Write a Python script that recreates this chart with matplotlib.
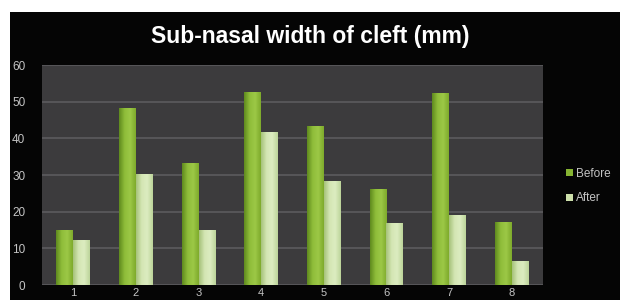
import numpy as np
import matplotlib
matplotlib.use('Agg')
import matplotlib.pyplot as plt
from matplotlib.colors import LinearSegmentedColormap

# Data
categories = ['1', '2', '3', '4', '5', '6', '7', '8']
before = [15.1, 48.4, 33.2, 52.7, 43.3, 26.1, 52.5, 17.2]
after = [12.4, 30.4, 15.1, 41.7, 28.4, 16.9, 19.0, 6.6]
series_names = ['Before', 'After']
yticks = [0, 10, 20, 30, 40, 50, 60]

before_cmap = LinearSegmentedColormap.from_list('bef', ['#5f8a1e', '#8fbd3a', '#9cc846', '#7eaa2c'])
after_cmap = LinearSegmentedColormap.from_list('aft', ['#a6c27a', '#d4e6b4', '#dcecc0', '#bcd49a'])

plt.rcParams['font.family'] = ['Liberation Sans', 'DejaVu Sans']


def gradient_bars(ax, bars, cmap):
  grad = np.linspace(0, 1, 64).reshape(1, -1)
  for b in bars:
    x, y = b.get_x(), b.get_y()
    w, h = b.get_width(), b.get_height()
    im = ax.imshow(grad, cmap=cmap, aspect='auto', extent=[x, x + w, y, y + h],
                   zorder=3, interpolation='bilinear')
    im.set_clip_path(b)


fig = plt.figure(figsize=(6.2, 3.0), dpi=100, facecolor='white')
# black slide background (white border strip on top/left as in the reference)
bg = fig.add_axes([10 / 620, 0, 610 / 620, 288 / 300], zorder=-1)
bg.set_facecolor('#050505')
bg.set_xticks([])
bg.set_yticks([])
for s in bg.spines.values():
  s.set_visible(False)

ax = fig.add_axes([42 / 620, 15 / 300, 501 / 620, 220 / 300])
ax.set_facecolor('#3c3b3d')

x = np.arange(1, len(categories) + 1)
w = 0.27
b1 = ax.bar(x - w / 2, before, w, color='#86b432', zorder=2, label=series_names[0])
b2 = ax.bar(x + w / 2, after, w, color='#cde0aa', zorder=2, label=series_names[1])
gradient_bars(ax, b1, before_cmap)
gradient_bars(ax, b2, after_cmap)

ax.set_xlim(0.5, 8.5)
ax.set_ylim(0, 60)
ax.set_yticks(yticks)
ax.set_xticks(x)
ax.set_xticklabels(categories)
ax.yaxis.grid(True, color='#5c5b5e', linewidth=1.2, zorder=1)
ax.set_axisbelow(True)
for s in ax.spines.values():
  s.set_visible(False)
ax.tick_params(length=0, colors='#c4c4c4', labelsize=8.5)
ax.tick_params(axis='y', pad=12)
ax.tick_params(axis='x', pad=2, labelsize=8)

fig.text(0.5, 0.877, 'Sub-nasal width of cleft (mm)', ha='center', va='center',
         color='white', fontsize=16.5, fontweight='bold')

leg = ax.legend(loc='center left', bbox_to_anchor=(1.025, 0.45), frameon=False,
                fontsize=8.5, labelcolor='#c4c4c4', handlelength=0.55, handleheight=0.55,
                handletextpad=0.3, labelspacing=1.1)

plt.savefig('out.png', dpi=100, facecolor=fig.get_facecolor())
